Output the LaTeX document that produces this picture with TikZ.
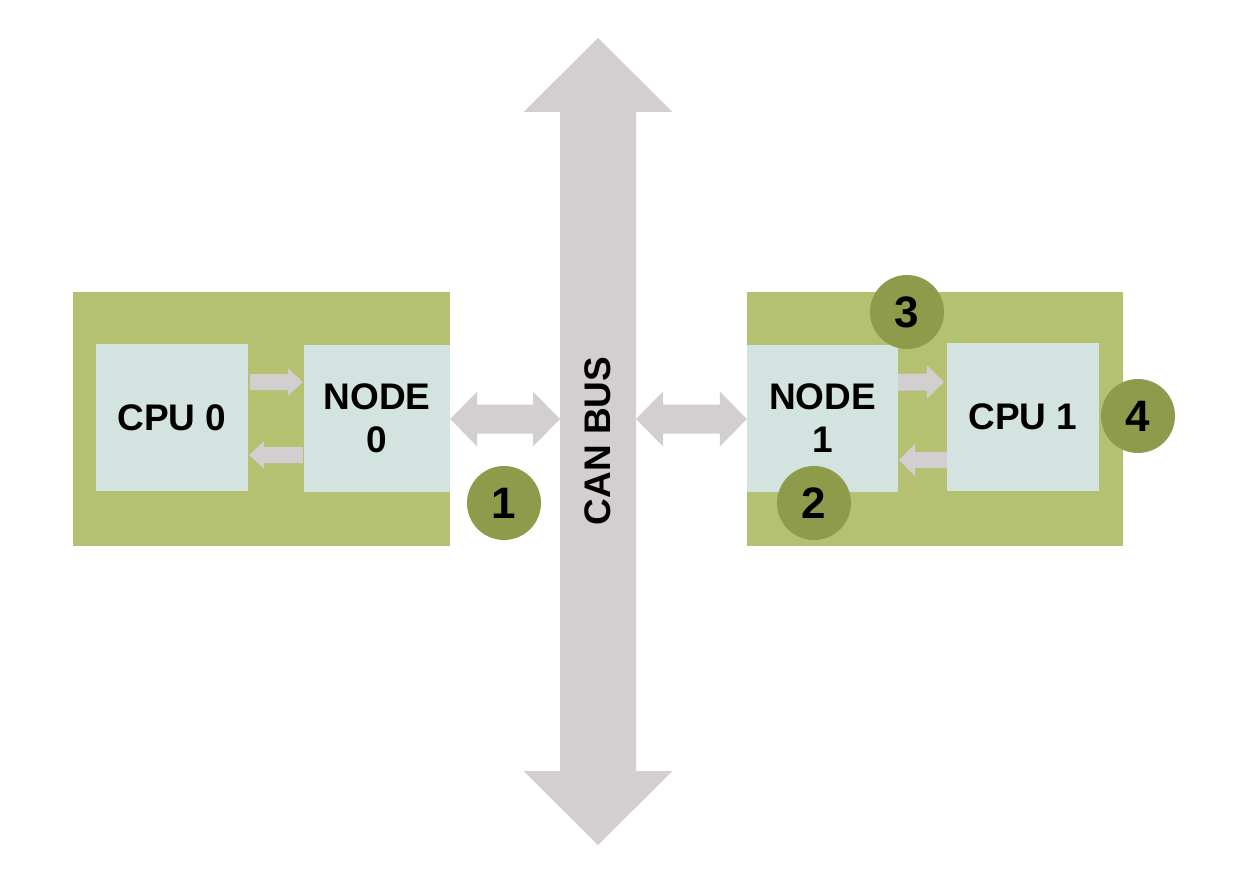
\documentclass[tikz,border=0pt]{standalone}
\usepackage{fontspec}
\setmainfont{Liberation Sans}
\usetikzlibrary{calc}
\definecolor{panelgreen}{HTML}{B3C171}
\definecolor{boxblue}{HTML}{D3E3DF}
\definecolor{dotgreen}{HTML}{8D9B4B}
\definecolor{arrowgray}{HTML}{D3CFD0}
\tikzset{
  panel/.style={fill=panelgreen, draw=none, inner sep=0pt},
  unit/.style={fill=boxblue, draw=none, inner sep=0pt, align=center,
    font=\fontsize{37}{43}\selectfont\bfseries},
  badge/.style={circle, fill=dotgreen, draw=none, minimum size=74pt, inner sep=0pt,
    font=\fontsize{44}{50}\selectfont\bfseries},
  buslabel/.style={font=\fontsize{37}{43}\selectfont\bfseries, rotate=90, inner sep=0pt}
}
% single horizontal block arrow from #1 to tip #2
\newcommand\harrow[5]{\fill[arrowgray] let \p1=#1, \p2=#2, \n1={sign(\x2-\x1)} in
  (\x1,{\y1-#3}) -- ({\x2-\n1*#5},{\y1-#3}) -- ({\x2-\n1*#5},{\y1-#4}) -- (\x2,\y1)
  -- ({\x2-\n1*#5},{\y1+#4}) -- ({\x2-\n1*#5},{\y1+#3}) -- (\x1,{\y1+#3}) -- cycle;}
% double horizontal block arrow, #1 left tip, #2 right tip
\newcommand\dharrow[5]{\fill[arrowgray] let \p1=#1, \p2=#2 in
  (\x1,\y1) -- ({\x1+#5},{\y1+#4}) -- ({\x1+#5},{\y1+#3}) -- ({\x2-#5},{\y1+#3})
  -- ({\x2-#5},{\y1+#4}) -- (\x2,\y1) -- ({\x2-#5},{\y1-#4}) -- ({\x2-#5},{\y1-#3})
  -- ({\x1+#5},{\y1-#3}) -- ({\x1+#5},{\y1-#4}) -- cycle;}
% double vertical block arrow, #1 and #2 tips
\newcommand\dvarrow[5]{\fill[arrowgray] let \p1=#1, \p2=#2 in
  (\x1,\y1) -- ({\x1+#4},{\y1-#5}) -- ({\x1+#3},{\y1-#5}) -- ({\x1+#3},{\y2+#5})
  -- ({\x1+#4},{\y2+#5}) -- (\x1,\y2) -- ({\x1-#4},{\y2+#5}) -- ({\x1-#3},{\y2+#5})
  -- ({\x1-#3},{\y1-#5}) -- ({\x1-#4},{\y1-#5}) -- cycle;}
\begin{document}
\begin{tikzpicture}[x=1pt,y=-1pt]
\useasboundingbox (0,0) rectangle (1240,888);
% panels
\node[panel, minimum width=377pt, minimum height=254pt] (panel0) at (261.5,419) {};
\node[panel, minimum width=376pt, minimum height=254pt] (panel1) at (935,419) {};
% units
\node[unit, minimum width=152pt, minimum height=147pt] (cpu0) at (172,417.5) {CPU 0};
\node[unit, minimum width=146pt, minimum height=147pt] (node0) at (377,418.5) {NODE\\0};
\node[unit, minimum width=151pt, minimum height=147pt] (node1) at (822.5,418.5) {NODE\\1};
\node[unit, minimum width=152pt, minimum height=148pt] (cpu1) at (1023,417) {CPU 1};
% bus
\coordinate (bustop) at (598,38);
\coordinate (busbot) at (598,845);
\dvarrow{(bustop)}{(busbot)}{38pt}{74.5pt}{74pt}
\node[buslabel] (bus) at (598,441) {CAN BUS};
\coordinate (busL) at (560,419);
\coordinate (busR) at (636,419);
% bus links
\dharrow{(node0.east |- 0,419)}{(busL)}{14.5pt}{27.5pt}{27pt}
\dharrow{(busR)}{(node1.west |- 0,419)}{14.5pt}{27.5pt}{27pt}
% cpu-node links
\harrow{($(cpu0.east |- 0,382)+(2,0)$)}{($(node0.west |- 0,382)+(-1,0)$)}{8pt}{14pt}{15pt}
\harrow{($(node0.west |- 0,455)+(-1,0)$)}{($(cpu0.east |- 0,455)+(1,0)$)}{8pt}{14pt}{15pt}
\harrow{(node1.east |- 0,382)}{($(cpu1.west |- 0,382)+(-3,0)$)}{8.5pt}{17pt}{17pt}
\harrow{(cpu1.west |- 0,460)}{($(node1.east |- 0,460)+(1,0)$)}{8pt}{16.5pt}{16pt}
% badges
\node[badge] (b1) at (504,503) {1};
\node[badge] (b2) at (814,503) {2};
\node[badge] (b3) at (907,312) {3};
\node[badge] (b4) at (1138,416) {4};
\end{tikzpicture}
\end{document}
